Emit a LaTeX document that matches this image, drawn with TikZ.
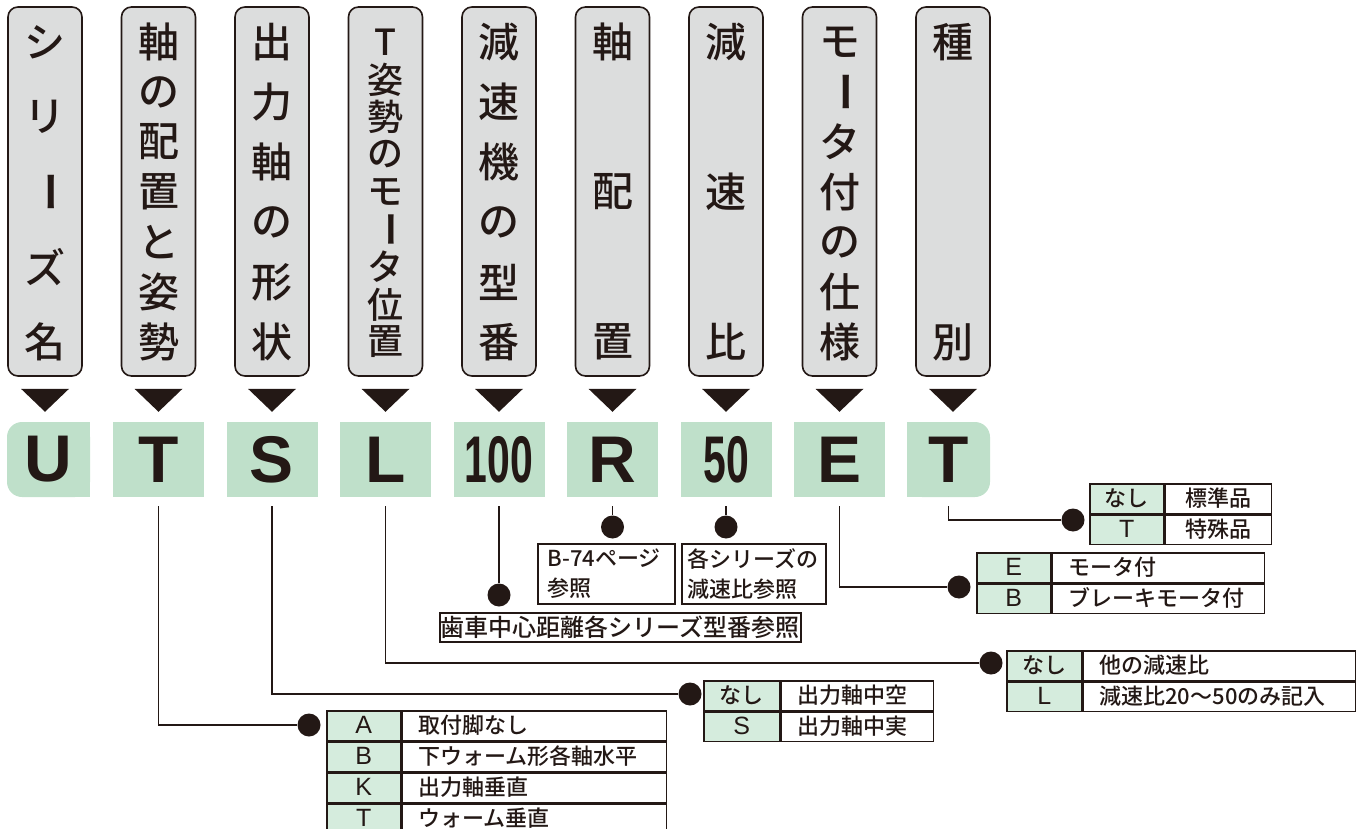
\documentclass[tikz,border=0pt]{standalone}
\usepackage{fontspec}
\usepackage{graphicx}
\setmainfont{Noto Sans CJK JP}[UprightFont=* Medium,BoldFont=* Bold]
\newfontfamily\bigfont{Liberation Sans}
\newfontfamily\keyfont{Liberation Sans}
\usetikzlibrary{backgrounds}
\definecolor{ink}{HTML}{231815}
\definecolor{lgray}{HTML}{DCDDDD}
\definecolor{lgreen}{HTML}{BFE0CA}
\definecolor{pgreen}{HTML}{D5ECDD}
\newcommand\vchoon{\rotatebox{-90}{\bfseries ー}}
\tikzset{hd/.append style={draw=ink,line width=1.6pt,fill=lgray,rounded corners=10pt,minimum width=74pt,minimum height=369pt,inner sep=0pt}}
\tikzset{ch/.append style={text=ink,inner sep=0pt,font=\fontsize{41}{41}\selectfont}}
\tikzset{cd/.append style={fill=lgreen,minimum width=91pt,minimum height=75pt,inner sep=0pt,text=ink,font=\bigfont\bfseries\fontsize{66}{66}\selectfont}}
\tikzset{dt/.append style={circle,fill=ink,minimum size=23pt,inner sep=0pt}}
\tikzset{ln/.append style={draw=ink,line width=1.3pt}}
\tikzset{kc/.append style={draw=ink,line width=1.6pt,fill=pgreen,anchor=north west,inner sep=0pt,minimum width=74pt,minimum height=29.5pt,text=ink,text height=18pt,text depth=3pt,font=\fontsize{22}{26}\selectfont}}
\tikzset{kl/.style={kc,font=\keyfont\fontsize{25}{25}\selectfont}}
\tikzset{vc/.style={kc,fill=white,inner xsep=16pt,text width=#1,align=left}}
\tikzset{nb/.append style={draw=ink,line width=1.6pt,anchor=north west,text=ink,align=left,font=\fontsize{22}{30}\selectfont}}
\begin{document}
\begin{tikzpicture}[x=1pt,y=-1pt]
                \useasboundingbox (0,0) rectangle (1360,829);
                % headings
                \foreach \i/\n/\txt in {0/5/{シ,リ,\vchoon,ズ,名},1/7/{軸,の,配,置,と,姿,勢},2/6/{出,力,軸,の,形,状},
                    3/9/{T,姿,勢,の,モ,\vchoon,タ,位,置},4/6/{減,速,機,の,型,番},5/3/{軸,配,置},6/3/{減,速,比},
                    7/7/{モ,\vchoon,タ,付,の,仕,様},8/2/{種,別}}{
                    \node[hd] (h\i) at ({45+113.5*\i},191.5) {};
                    \foreach \ch [count=\k] in \txt
                        \node[ch] at ({45+113.5*\i},{42+(\k-1)*300/(\n-1)}) {\ifnum\n>8\fontsize{36}{36}\selectfont\fi\ch};
                    \fill[ink] ([yshift=-12pt]h\i.south) ++(-24,0) -- ++(48,0) -- ++(-24,23) -- cycle;
                }
                % code letters
                \node[cd,rounded corners=15pt,minimum width=83pt] (cU) at (48.5,459.5) {U};
                \node[cd] (cT) at (158.5,459.5) {T};
                \node[cd] (cS) at (272,459.5) {S};
                \node[cd] (cL) at (385.5,459.5) {L};
                \node[cd] (c100) at (499,459.5) {\scalebox{0.62}[1]{100}};
                \node[cd] (cR) at (612.5,459.5) {R};
                \node[cd] (c50) at (726,459.5) {\scalebox{0.62}[1]{50}};
                \node[cd] (cE) at (839.5,459.5) {E};
                \node[cd,rounded corners=15pt,minimum width=83pt] (cTT) at (948.5,459.5) {T};
                \begin{scope}[on background layer]
                    \fill[lgreen] (cU.north) rectangle (cU.south east);
                    \fill[lgreen] (cTT.north west) rectangle (cTT.south);
                \end{scope}
                % connectors
                \node[dt] (dA) at (309,725) {};
                \node[dt] (dS) at (690,694) {};
                \node[dt] (dL) at (991,663) {};
                \node[dt] (d100) at (499,595) {};
                \node[dt] (dR) at (612.5,527) {};
                \node[dt] (d50) at (726,527) {};
                \node[dt] (dE) at (959,587) {};
                \node[dt] (dT) at (1073,520) {};
                \begin{scope}[on background layer]
                \draw[ln] ([yshift=-9pt]cT.south) |- (dA);
                \draw[ln] ([yshift=-9pt]cS.south) |- (dS);
                \draw[ln] ([yshift=-9pt]cL.south) |- (dL);
                \draw[ln] ([yshift=-9pt]c100.south) -- (d100);
                \draw[ln] ([yshift=-9pt]cR.south) -- (dR);
                \draw[ln] ([yshift=-9pt]c50.south) -- (d50);
                \draw[ln] ([yshift=-9pt]cE.south) |- (dE);
                \draw[ln] ([yshift=-9pt]cTT.south) |- (dT);
                \end{scope}
                % notes
                \node[nb,minimum width=137pt,minimum height=60pt,text width=117pt,inner xsep=10pt] (bR) at (537,543) {B-74ページ\\参照};
                \node[nb,minimum width=144pt,minimum height=60pt,text width=132pt,inner xsep=6pt] (b50) at (681,543) {各シリーズの\\減速比参照};
                \node[nb,minimum width=361pt,minimum height=29pt,inner sep=0pt,align=center,font=\fontsize{24}{24}\selectfont] (b100) at (439,612) {歯車中心距離各シリーズ型番参照};
                % tables
                \node[kc] (kT1) at (1089,483) {なし};
                \node[vc=74pt,align=center] (vT1) at (kT1.north east) {標準品};
                \node[kl] (kT2) at (kT1.south west) {T};
                \node[vc=74pt,align=center] (vT2) at (kT2.north east) {特殊品};
                \node[kl] (kE1) at (976,552) {E};
                \node[vc=180pt] (vE1) at (kE1.north east) {モータ付};
                \node[kl] (kE2) at (kE1.south west) {B};
                \node[vc=180pt] (vE2) at (kE2.north east) {ブレーキモータ付};
                \node[kc,minimum width=75pt] (kL1) at (1006,650) {なし};
                \node[vc=240pt] (vL1) at (kL1.north east) {他の減速比};
                \node[kl,minimum width=75pt] (kL2) at (kL1.south west) {L};
                \node[vc=240pt] (vL2) at (kL2.north east) {減速比20～50のみ記入};
                \node[kc,minimum width=76pt] (kS1) at (703,680) {なし};
                \node[vc=120pt] (vS1) at (kS1.north east) {出力軸中空};
                \node[kl,minimum width=76pt] (kS2) at (kS1.south west) {S};
                \node[vc=120pt] (vS2) at (kS2.north east) {出力軸中実};
                \node[kl] (kA1) at (326,710) {A};
                \node[vc=232pt] (vA1) at (kA1.north east) {取付脚なし};
                \node[kl] (kA2) at (kA1.south west) {B};
                \node[vc=232pt] (vA2) at (kA2.north east) {下ウォーム形各軸水平};
                \node[kl] (kA3) at (kA2.south west) {K};
                \node[vc=232pt] (vA3) at (kA3.north east) {出力軸垂直};
                \node[kl] (kA4) at (kA3.south west) {T};
                \node[vc=232pt] (vA4) at (kA4.north east) {ウォーム垂直};
\end{tikzpicture}
\end{document}
